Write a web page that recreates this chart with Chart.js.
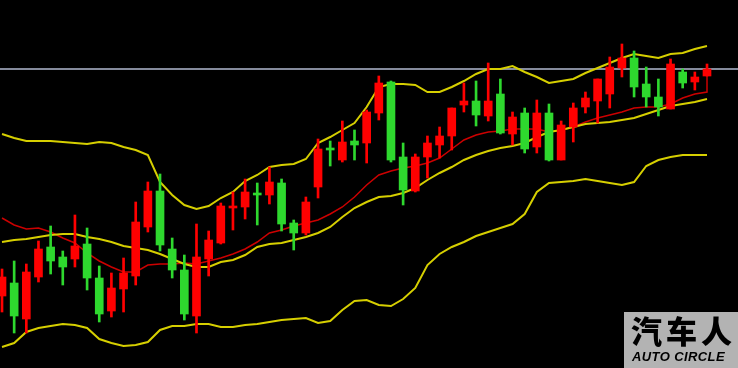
<!DOCTYPE html>
<html>
<head>
<meta charset="utf-8">
<script src="https://cdn.jsdelivr.net/npm/chart.js@4"></script>
<style>
    body { margin: 0; background: #000; }
    #wrap { position: relative; width: 738px; height: 368px; overflow: hidden; }
    #logo {
        position: absolute; left: 624px; top: 312px; width: 114px; height: 56px;
        background: #b3b3b3; color: #000;
    }
    #logo .cn {
        position: absolute; left: 7px; top: 0px;
        font: 900 31px "Noto Sans CJK SC"; letter-spacing: 4px; line-height: 36px;
    }
    #logo .en {
        position: absolute; left: 8px; top: 37px;
        font: italic bold 13px "Liberation Sans"; letter-spacing: 0.4px; line-height: 16px;
    }
</style>
</head>
<body>
<div id="wrap">
    <canvas id="klineChart" width="738" height="368" aria-label="K-line chart" role="img"></canvas>
    <div id="logo"><div class="cn">汽车人</div><div class="en">AUTO CIRCLE</div></div>
</div>
<script>
// candles, oldest first
const opens  = [72, 85, 49, 91, 121, 111, 109, 124, 90, 57, 79, 92, 141, 177, 119, 98, 52, 109, 125, 160,
                161, 175, 173, 185, 145, 135, 181, 220, 208, 227, 225, 255, 286, 211, 177, 211, 223, 232, 263, 267,
                252, 274, 234, 255, 221, 255, 208, 241, 261, 267, 274, 300, 310, 284, 271, 259, 296, 286, 292];
const highs  = [99, 107, 104, 127, 142, 117, 153, 140, 102, 95, 110, 166, 186, 194, 130, 113, 144, 137, 165, 176,
                189, 185, 201, 189, 148, 171, 229, 227, 247, 238, 258, 292, 287, 225, 214, 232, 241, 260, 285, 287,
                305, 289, 256, 260, 268, 264, 247, 265, 276, 289, 311, 324, 317, 301, 289, 309, 299, 296, 304];
const lows   = [56, 35, 35, 86, 94, 83, 101, 78, 46, 51, 56, 83, 136, 117, 90, 48, 35, 92, 124, 138,
                149, 143, 164, 137, 118, 133, 170, 202, 206, 208, 205, 248, 206, 163, 176, 190, 210, 218, 256, 242,
                247, 234, 223, 215, 215, 207, 208, 226, 255, 245, 260, 291, 271, 261, 252, 259, 280, 278, 292];
const closes = [91, 52, 96, 119, 107, 101, 122, 90, 54, 80, 95, 146, 177, 123, 98, 54, 111, 128, 162, 162,
                176, 173, 186, 144, 135, 166, 219, 218, 226, 223, 256, 285, 208, 178, 211, 225, 232, 260, 267, 253,
                267, 235, 251, 219, 255, 208, 243, 260, 270, 289, 301, 310, 281, 271, 261, 304, 285, 291, 299];

// indicator lines
const upperBand = [234, 230, 227, 227, 227, 226, 225, 224, 226, 225, 221, 218, 213, 186, 173, 163, 159, 162, 170, 176,
                   187, 193, 201, 203, 204, 209, 225, 231, 238, 245, 261, 281, 284, 284, 283, 276, 276, 281, 287, 294,
                   299, 299, 302, 296, 291, 285, 287, 289, 295, 300, 305, 310, 314, 312, 310, 314, 315, 319, 322];
const midBand   = [126, 128, 129, 131, 133, 134, 134, 131, 129, 126, 122, 120, 118, 114, 109, 104, 101, 101, 106, 108,
                   113, 121, 124, 125, 128, 131, 135, 141, 151, 160, 166, 171, 172, 175, 180, 188, 195, 201, 208, 213,
                   217, 220, 222, 225, 231, 236, 238, 241, 244, 245, 246, 248, 250, 254, 258, 262, 264, 266, 269];
const maLine    = [150, 143, 139, 140, 136, 130, 125, 115, 107, 101, 96, 96, 103, 104, 104, 105, 104, 107, 110, 114,
                   119, 126, 135, 138, 142, 145, 148, 154, 161, 171, 183, 193, 197, 200, 202, 205, 210, 219, 228, 233,
                   236, 237, 239, 239, 239, 236, 238, 241, 246, 250, 253, 256, 260, 261, 261, 264, 270, 274, 276];
const maTail = 292;
const lowerBand = [21, 25, 36, 40, 42, 44, 43, 40, 29, 25, 22, 23, 26, 38, 42, 42, 44, 44, 41, 41,
                   43, 44, 46, 48, 49, 50, 45, 47, 58, 67, 68, 63, 62, 69, 80, 103, 114, 121, 126, 132,
                   136, 140, 144, 154, 176, 185, 186, 187, 189, 187, 185, 183, 186, 202, 208, 211, 213, 213, 213];
const refLevel = 299;

const upColor = '#ff0000';
const downColor = '#2ed82e';
const candleColors = closes.map((c, i) => c >= opens[i] ? upColor : downColor);

const toPoints = (arr) => arr.map((v, i) => ({ x: i, y: v }));

const maPoints = toPoints(maLine);
maPoints.push({ x: maLine.length - 1, y: maTail });

const lineStyle = (color, width) => ({
    type: 'line',
    borderColor: color,
    borderWidth: width,
    pointRadius: 0,
    tension: 0,
    fill: false,
});

const ctx = document.getElementById('klineChart').getContext('2d');
new Chart(ctx, {
    type: 'bar',
    data: {
        datasets: [
            {
                // candle bodies
                data: opens.map((o, i) => ({ x: i, y: [o, closes[i]] })),
                backgroundColor: candleColors,
                barThickness: 8,
                grouped: false,
                borderWidth: 0,
            },
            {
                // wicks
                data: lows.map((l, i) => ({ x: i, y: [l, highs[i]] })),
                backgroundColor: candleColors,
                barThickness: 2,
                grouped: false,
                borderWidth: 0,
            },
            Object.assign(lineStyle('#d6cf00', 2), { data: toPoints(upperBand) }),
            Object.assign(lineStyle('#d6cf00', 2), { data: toPoints(midBand) }),
            Object.assign(lineStyle('#cc0000', 1.5), { data: maPoints }),
            Object.assign(lineStyle('#d6cf00', 2), { data: toPoints(lowerBand) }),
            Object.assign(lineStyle('#858b9c', 2), { data: [{ x: -1, y: refLevel }, { x: 61, y: refLevel }] }),
        ],
    },
    options: {
        responsive: false,
        animation: false,
        devicePixelRatio: 1,
        layout: { padding: 0 },
        plugins: {
            legend: { display: false },
            tooltip: { enabled: false },
        },
        scales: {
            x: { type: 'linear', display: false, offset: false, bounds: 'ticks', min: -0.165, max: 60.55 },
            y: { display: false, min: 0, max: 368 },
        },
    },
});
</script>
</body>
</html>
